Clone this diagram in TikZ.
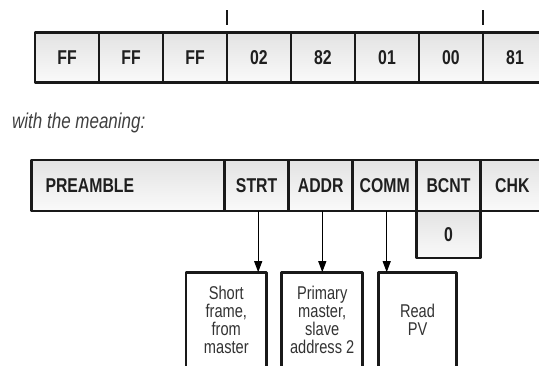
\documentclass[tikz,border=0pt]{standalone}
\usepackage{fontspec}
\setmainfont{Liberation Sans}[FakeStretch=0.79]
\usetikzlibrary{arrows.meta,positioning}

\begin{document}
\begin{tikzpicture}[x=1pt, y=-1pt, >={Triangle[length=11pt,width=8pt]}, line join=round,
    cell/.style={draw=black!90, line width=2.7pt, outer sep=0pt, inner sep=0pt,
      top color=black!11, bottom color=black!2, text=black!88,
      minimum height=50pt, font=\fontsize{20}{22}\selectfont\bfseries},
    info/.style={draw=black!90, line width=2.7pt, outer sep=0pt, fill=white, text=black!80,
      minimum height=96pt, align=center, font=\fontsize{18.5}{18}\selectfont},
    tickmark/.style={line width=2.6pt, black!90}]
    \useasboundingbox (0,0) rectangle (539,366);
    \clip (0,0) rectangle (539,366);
    % message bytes
    \foreach \v [count=\i] in {FF,FF,FF,02,82,01,00,81}
      \node[cell, minimum width=64pt] (b\i) at ({67+64*(\i-1)}, 57.8) {\v};
    \draw[tickmark] ([yshift=8pt]b4.north west) -- ++(0,-15);
    \draw[tickmark] ([yshift=8pt]b8.north west) -- ++(0,-15);
    \node[anchor=base west, inner sep=0pt, text=black!75, font=\fontsize{21.5}{22}\selectfont\itshape]
      (mean) at (12,129) {with the meaning:};
    % frame fields
    \node[cell, minimum width=193pt, minimum height=51pt, text width=165pt, align=left]
      (pre) at (128,185.6) {PREAMBLE};
    \node[cell, minimum width=64.2pt, minimum height=51pt, right=0pt of pre] (strt) {STRT};
    \node[cell, minimum width=64pt, minimum height=51pt, right=0pt of strt] (addr) {ADDR};
    \node[cell, minimum width=64pt, minimum height=51pt, right=0pt of addr] (comm) {COMM};
    \node[cell, minimum width=63.6pt, minimum height=51pt, right=0pt of comm] (bcnt) {BCNT};
    \node[cell, minimum width=64pt, minimum height=51pt, right=0pt of bcnt] (chk) {CHK};
    \node[cell, minimum width=63.6pt, minimum height=47pt, below=0pt of bcnt] (cnt) {0};
    % meanings
    \node[info, minimum width=80.7pt] (frame) at (226.3,320.2) {Short\\frame,\\from\\master};
    \node[info, minimum width=81pt] (prim) at (322.2,320.2) {Primary\\master,\\slave\\address 2};
    \node[info, minimum width=78.4pt] (read) at (417.5,320.2) {Read\\PV};
    \draw[->, line width=1pt] ([xshift=1.6pt]strt.south) -- ([xshift=1.6pt]strt.south |- frame.north);
    \draw[->, line width=1pt] ([xshift=1.6pt]addr.south) -- ([xshift=1.6pt]addr.south |- prim.north);
    \draw[->, line width=1pt] ([xshift=2pt]comm.south) -- ([xshift=2pt]comm.south |- read.north);
  \end{tikzpicture}
\end{document}
